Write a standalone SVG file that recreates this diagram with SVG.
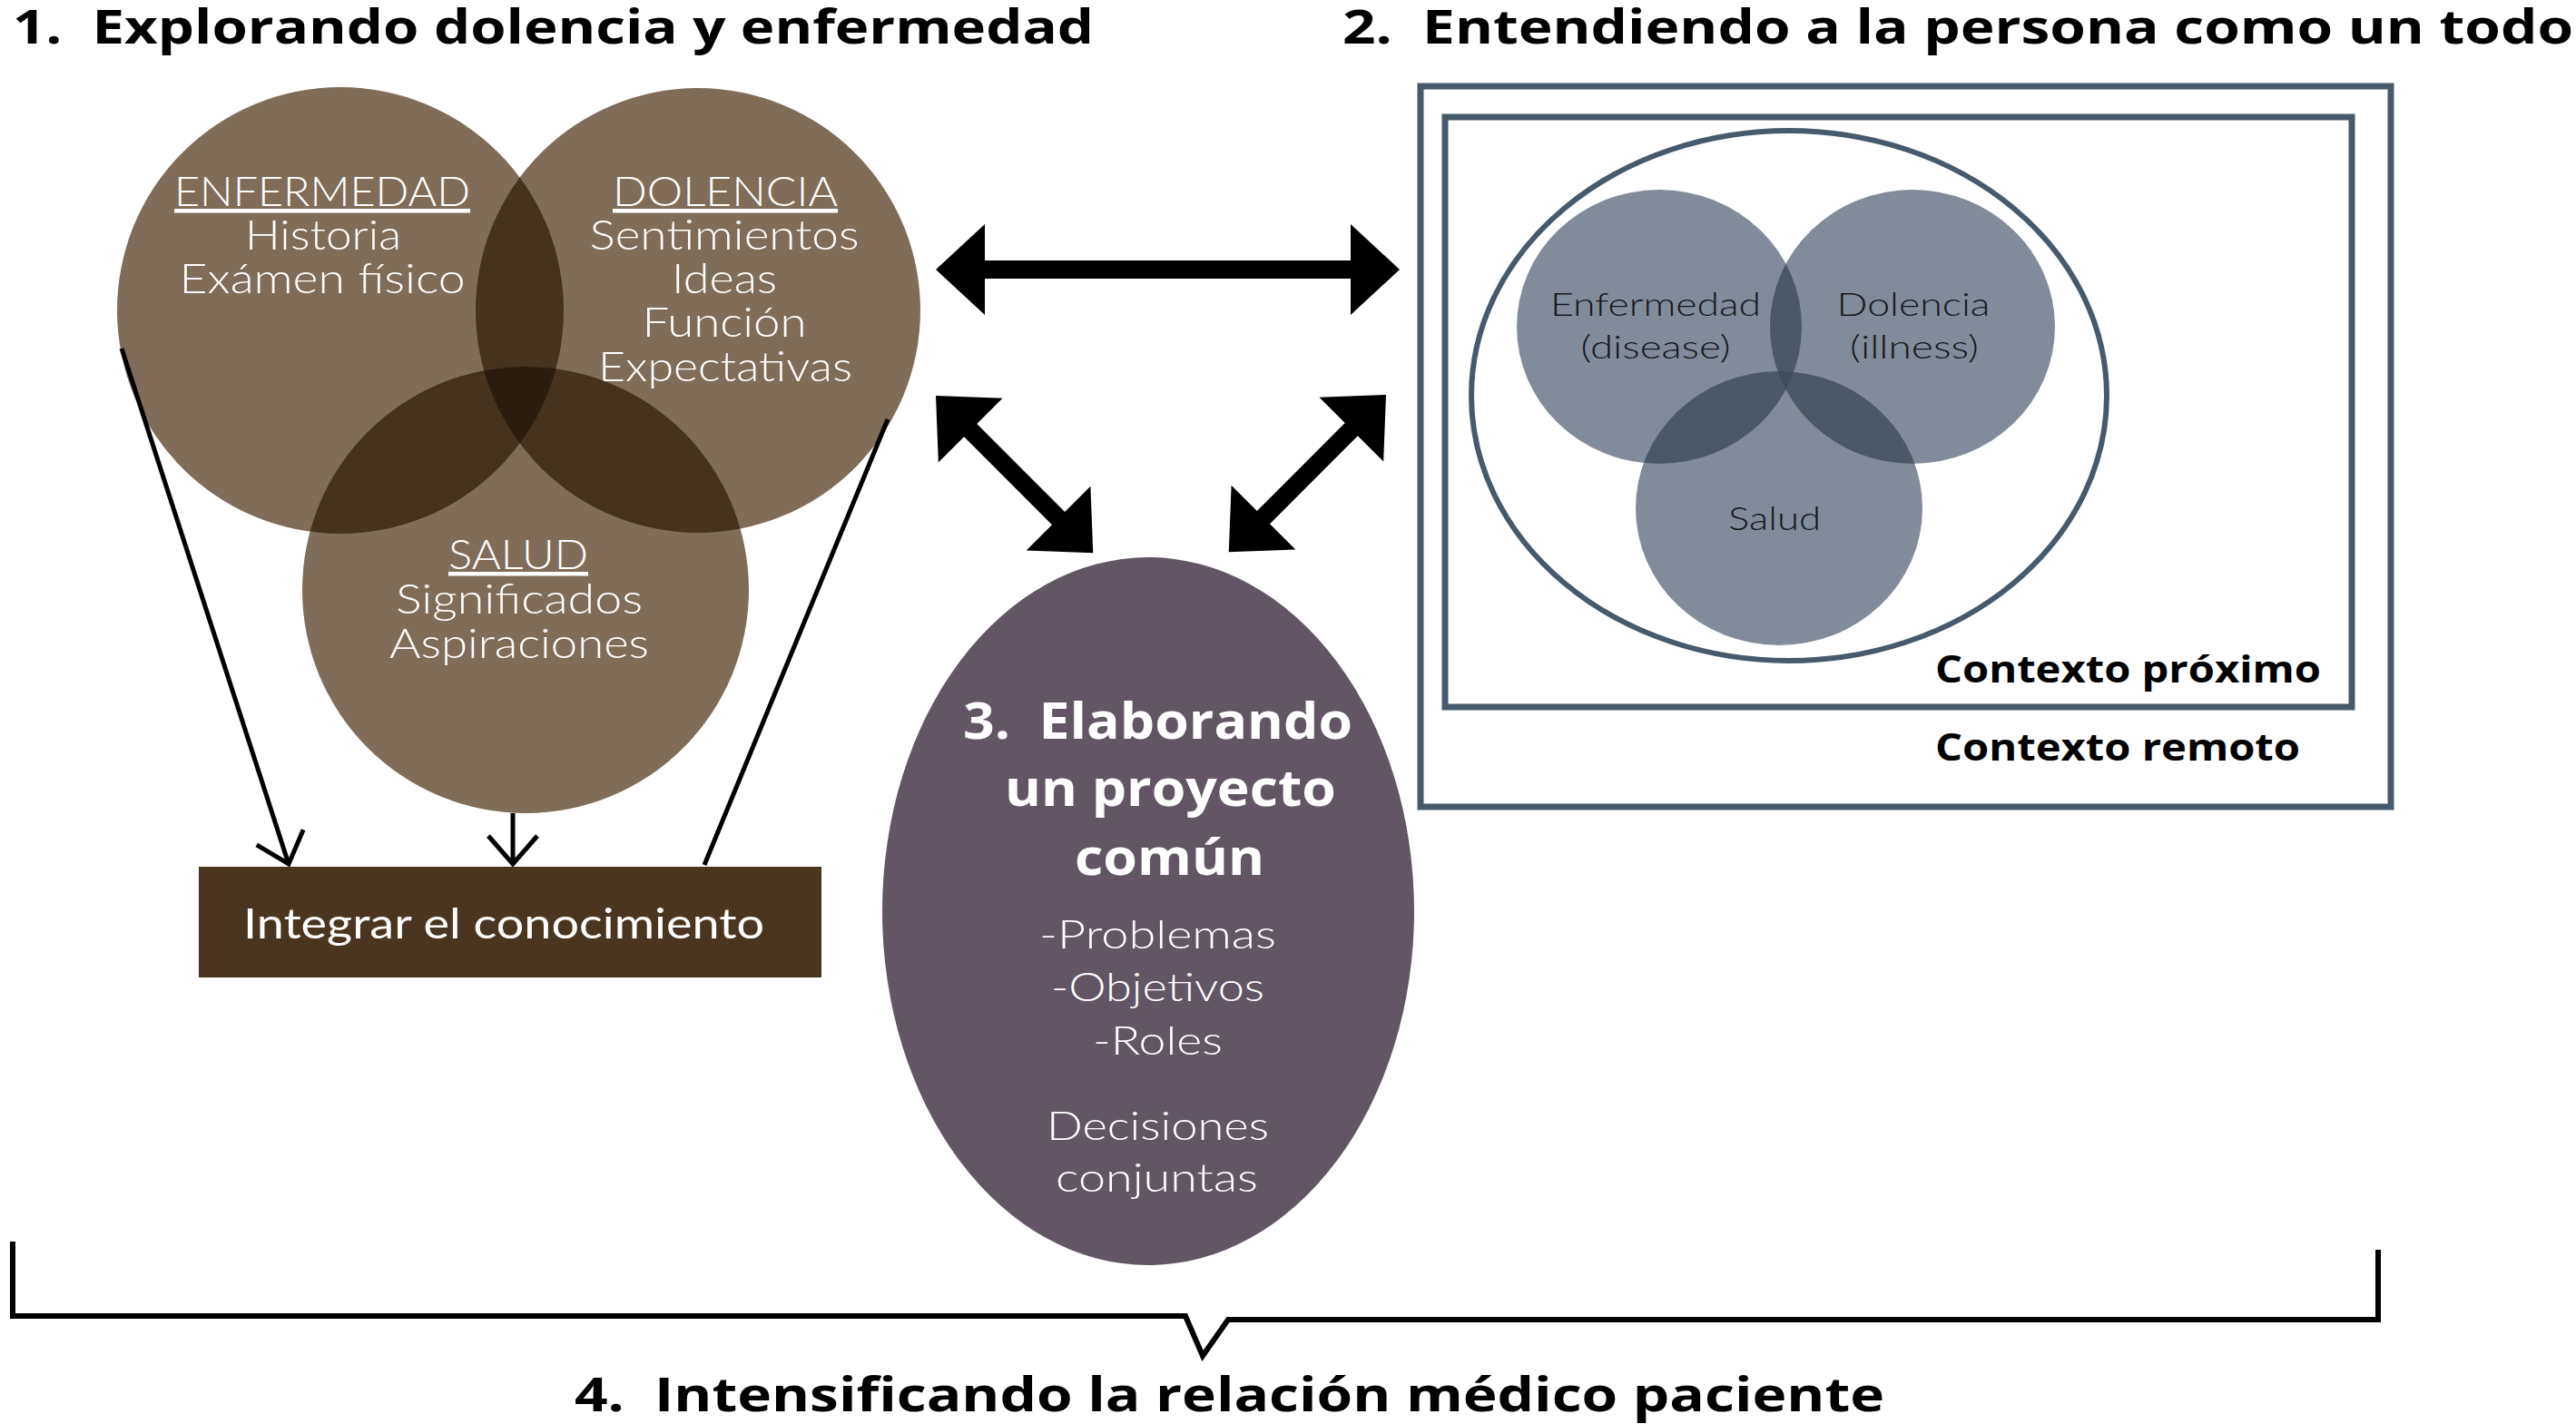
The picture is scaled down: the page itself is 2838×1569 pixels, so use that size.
<svg xmlns="http://www.w3.org/2000/svg" width="2838" height="1569" viewBox="0 0 2838 1569">
<style>
.br{fill:#7f6d59}.br2{fill:#45331f}.br3{fill:#2b1c10}
.bl{fill:#828b9a}.bl2{fill:#4b5866}.bl3{fill:#414d5b}
.title{font-family:"Open Sans","Noto Sans",sans-serif;font-weight:700;font-size:52px;fill:#000}
.wl{font-family:Lato,"Open Sans",sans-serif;font-weight:300;font-size:45px;fill:#fff;text-anchor:middle}
.ul{text-decoration:underline}
.wr{font-family:Lato,"Open Sans",sans-serif;font-weight:400;font-size:46px;fill:#fff;text-anchor:middle}
.ph{font-family:"Open Sans","Noto Sans",sans-serif;font-weight:700;font-size:56px;fill:#fff;text-anchor:middle}
.pi{font-family:Lato,"Open Sans",sans-serif;font-weight:300;font-size:44px;fill:#fff;text-anchor:middle}
.dk{font-family:Lato,"Open Sans",sans-serif;font-weight:300;font-size:36px;fill:#15181c;text-anchor:middle}
.ctx{font-family:"Open Sans","Noto Sans",sans-serif;font-weight:700;font-size:42px;fill:#000}
.frame{fill:none;stroke:#465a6b;stroke-width:7}
.thin{fill:none;stroke:#000;stroke-width:5}
.big{fill:#000}
</style>
<defs>
<clipPath id="cE"><circle cx="375" cy="342" r="246"/></clipPath>
<clipPath id="cD"><circle cx="769" cy="342" r="245"/></clipPath>
<clipPath id="rE"><ellipse cx="1828" cy="360" rx="157" ry="151"/></clipPath>
<clipPath id="rD"><ellipse cx="2107" cy="360" rx="157" ry="151"/></clipPath>
<marker id="openV" markerUnits="userSpaceOnUse" markerWidth="80" markerHeight="80" viewBox="-40 -40 80 80" refX="0" refY="0" orient="auto" overflow="visible">
<path d="M-31,-27 L0,0 L-31,27" fill="none" stroke="#000" stroke-width="5"/>
</marker>
</defs>
<rect width="2838" height="1569" fill="#fff"/>

<g id="titles">
<text class="title" x="14" y="48" xml:space="preserve" textLength="1191" lengthAdjust="spacingAndGlyphs">1.  Explorando dolencia y enfermedad</text>
<text class="title" x="1479" y="48" xml:space="preserve" textLength="1356" lengthAdjust="spacingAndGlyphs">2.  Entendiendo a la persona como un todo</text>
<text class="title" x="633" y="1555" xml:space="preserve" textLength="1443" lengthAdjust="spacingAndGlyphs">4.  Intensificando la relación médico paciente</text>
</g>

<g id="node-enfermedad">
<circle class="br" cx="375" cy="342" r="246"/>
<text class="wl ul" x="355" y="227" textLength="326" lengthAdjust="spacingAndGlyphs">ENFERMEDAD</text>
<text class="wl" x="356" y="275" textLength="172" lengthAdjust="spacingAndGlyphs">Historia</text>
<text class="wl" x="355" y="323" textLength="315" lengthAdjust="spacingAndGlyphs">Exámen físico</text>
</g>

<g id="node-dolencia">
<circle class="br" cx="769" cy="342" r="245"/>
<circle class="br2" cx="769" cy="342" r="245" clip-path="url(#cE)"/>
<text class="wl ul" x="799" y="227" textLength="248" lengthAdjust="spacingAndGlyphs">DOLENCIA</text>
<text class="wl" x="798" y="275" textLength="297" lengthAdjust="spacingAndGlyphs">Sentimientos</text>
<text class="wl" x="798" y="323" textLength="116" lengthAdjust="spacingAndGlyphs">Ideas</text>
<text class="wl" x="798" y="371" textLength="181" lengthAdjust="spacingAndGlyphs">Función</text>
<text class="wl" x="799" y="420" textLength="280" lengthAdjust="spacingAndGlyphs">Expectativas</text>
</g>

<g id="node-salud">
<circle class="br" cx="579" cy="650" r="246"/>
<circle class="br2" cx="579" cy="650" r="246" clip-path="url(#cE)"/>
<circle class="br2" cx="579" cy="650" r="246" clip-path="url(#cD)"/>
<g clip-path="url(#cD)"><circle class="br3" cx="579" cy="650" r="246" clip-path="url(#cE)"/></g>
<text class="wl ul" x="571" y="627" textLength="154" lengthAdjust="spacingAndGlyphs">SALUD</text>
<text class="wl" x="572" y="676" textLength="272" lengthAdjust="spacingAndGlyphs">Significados</text>
<text class="wl" x="572" y="725" textLength="286" lengthAdjust="spacingAndGlyphs">Aspiraciones</text>
</g>

<g id="node-integrar">
<rect x="219" y="955" width="686" height="122" fill="#4a3520"/>
<text class="wr" x="555" y="1034" textLength="574" lengthAdjust="spacingAndGlyphs">Integrar el conocimiento</text>
</g>

<g id="node-proyecto">
<ellipse cx="1265" cy="1004" rx="293" ry="390" fill="#625665"/>
<text class="ph" x="1275.5" y="814" xml:space="preserve" textLength="429" lengthAdjust="spacingAndGlyphs">3.  Elaborando</text>
<text class="ph" x="1289.5" y="888" textLength="365" lengthAdjust="spacingAndGlyphs">un proyecto</text>
<text class="ph" x="1288.5" y="964" textLength="209" lengthAdjust="spacingAndGlyphs">común</text>
<text class="pi" x="1275.5" y="1045" textLength="261" lengthAdjust="spacingAndGlyphs">-Problemas</text>
<text class="pi" x="1275.5" y="1103" textLength="235" lengthAdjust="spacingAndGlyphs">-Objetivos</text>
<text class="pi" x="1275.5" y="1162" textLength="143" lengthAdjust="spacingAndGlyphs">-Roles</text>
<text class="pi" x="1275.5" y="1256" textLength="245" lengthAdjust="spacingAndGlyphs">Decisiones</text>
<text class="pi" x="1274.5" y="1313" textLength="223" lengthAdjust="spacingAndGlyphs">conjuntas</text>
</g>

<g id="node-contexto-remoto">
<rect class="frame" x="1565" y="95" width="1069" height="794"/>
<text class="ctx" x="2132" y="838" textLength="402" lengthAdjust="spacingAndGlyphs">Contexto remoto</text>
</g>

<g id="node-contexto-proximo">
<rect class="frame" x="1592" y="129" width="999" height="650"/>
<text class="ctx" x="2132" y="752" textLength="425" lengthAdjust="spacingAndGlyphs">Contexto próximo</text>
</g>

<g id="node-persona">
<ellipse cx="1971" cy="436" rx="350" ry="292" fill="none" stroke="#465a6b" stroke-width="6"/>
</g>

<g id="node-enfermedad-disease">
<ellipse class="bl" cx="1828" cy="360" rx="157" ry="151"/>
<text class="dk" x="1824" y="348" textLength="232" lengthAdjust="spacingAndGlyphs">Enfermedad</text>
<text class="dk" x="1824" y="395" textLength="165" lengthAdjust="spacingAndGlyphs">(disease)</text>
</g>

<g id="node-dolencia-illness">
<ellipse class="bl" cx="2107" cy="360" rx="157" ry="151"/>
<ellipse class="bl2" cx="2107" cy="360" rx="157" ry="151" clip-path="url(#rE)"/>
<text class="dk" x="2108" y="348" textLength="169" lengthAdjust="spacingAndGlyphs">Dolencia</text>
<text class="dk" x="2109" y="395" textLength="142" lengthAdjust="spacingAndGlyphs">(illness)</text>
</g>

<g id="node-salud-2">
<ellipse class="bl" cx="1960" cy="560" rx="158" ry="151"/>
<ellipse class="bl2" cx="1960" cy="560" rx="158" ry="151" clip-path="url(#rE)"/>
<ellipse class="bl2" cx="1960" cy="560" rx="158" ry="151" clip-path="url(#rD)"/>
<g clip-path="url(#rD)"><ellipse class="bl3" cx="1960" cy="560" rx="158" ry="151" clip-path="url(#rE)"/></g>
<text class="dk" x="1955" y="584" textLength="102" lengthAdjust="spacingAndGlyphs">Salud</text>
</g>

<g id="connectors">
<line class="thin" x1="134" y1="384" x2="318" y2="952" marker-end="url(#openV)"/>
<line class="thin" x1="565" y1="896" x2="565" y2="952" marker-end="url(#openV)"/>
<line class="thin" x1="978" y1="462" x2="776" y2="953"/>
<polygon class="big" transform="translate(1031,297)" points="0,0 54,-50 54,-10 457,-10 457,-50 511,0 457,50 457,10 54,10 54,50"/>
<polygon class="big" transform="translate(1031,436) rotate(45)" points="0,0 54,-50 54,-10 191,-10 191,-50 245,0 191,50 191,10 54,10 54,50"/>
<polygon class="big" transform="translate(1527,435) rotate(135)" points="0,0 54,-50 54,-10 191,-10 191,-50 245,0 191,50 191,10 54,10 54,50"/>
<polyline fill="none" stroke="#000" stroke-width="6" stroke-linejoin="miter" points="14,1368 14,1450 1306,1450 1325,1494 1353,1454 2620,1454 2620,1377"/>
</g>
</svg>
